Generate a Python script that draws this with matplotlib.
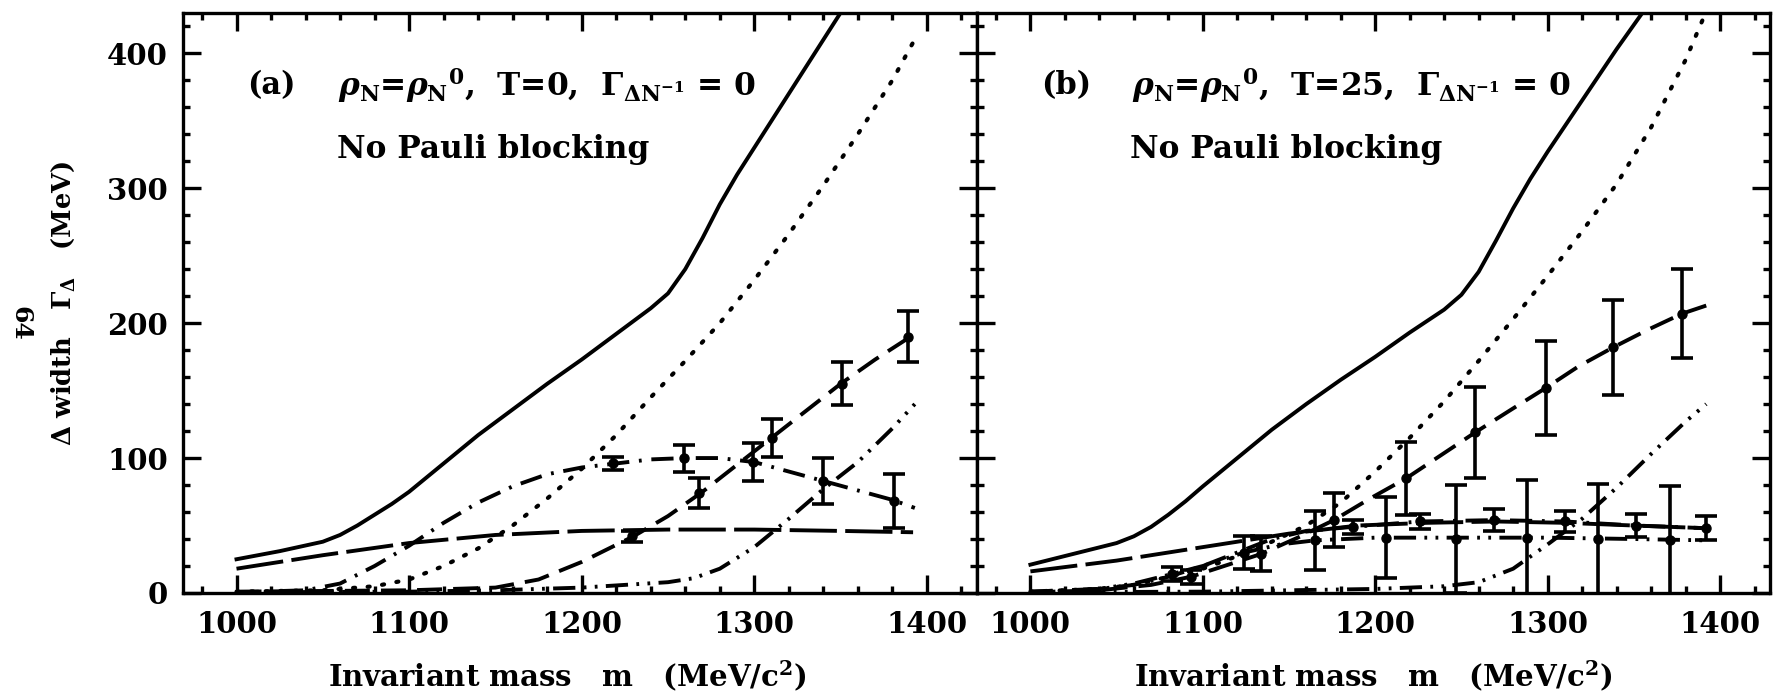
import numpy as np
import matplotlib
matplotlib.use("Agg")
import matplotlib.pyplot as plt

plt.rcParams['font.family'] = ['DejaVu Serif']
plt.rcParams['font.weight'] = 'bold'
plt.rcParams['mathtext.fontset'] = 'dejavuserif'
plt.rcParams['lines.scale_dashes'] = False

# ---- panel (a): T = 0 ----
a_solid_m = [1000, 1025, 1050, 1060, 1070, 1080, 1090, 1100, 1120, 1140, 1160, 1180, 1200, 1220, 1240, 1250,
             1260, 1270, 1280, 1290, 1300, 1310, 1320, 1330, 1340, 1350]
a_solid_v = [25, 31, 38, 43, 50, 58, 66, 75, 96, 117, 136, 155, 173, 192, 211, 222,
             240, 263, 288, 310, 330, 350, 370, 390, 410, 430]

a_dot_m = [1000, 1050, 1080, 1100, 1120, 1140, 1160, 1180, 1200, 1220, 1240, 1260, 1280, 1300, 1320, 1340, 1360, 1380, 1395]
a_dot_v = [1, 2, 5, 10, 20, 33, 50, 70, 92, 117, 145, 172, 200, 232, 266, 302, 340, 380, 415]

a_ldash_m = [1000, 1050, 1100, 1150, 1200, 1250, 1300, 1350, 1392]
a_ldash_v = [18, 28, 37, 43, 46, 47, 47, 46, 45]

a_hump_m = [1000, 1040, 1060, 1080, 1100, 1120, 1140, 1160, 1180, 1200, 1220, 1240, 1260, 1280, 1300, 1320, 1340, 1360, 1380, 1393]
a_hump_v = [0.5, 2, 7, 20, 35, 52, 67, 79, 88, 93, 96, 99, 100, 100, 97, 90, 83, 76, 69, 63]
a_hump_pm = [1218, 1259, 1299, 1340, 1381]
a_hump_pv = [96, 100, 97, 83, 68]
a_hump_pe = [5, 10, 14, 17, 20]

a_dash_m = [1000, 1100, 1150, 1175, 1200, 1230, 1250, 1270, 1290, 1310, 1330, 1350, 1370, 1393]
a_dash_v = [1, 2, 4, 10, 23, 42, 57, 75, 95, 115, 135, 155, 173, 192]
a_dash_pm = [1229, 1268, 1310, 1351, 1389]
a_dash_pv = [42, 74, 115, 155, 190]
a_dash_pe = [4, 11, 14, 16, 19]

a_late_m = [1000, 1100, 1150, 1200, 1250, 1265, 1280, 1300, 1320, 1340, 1360, 1380, 1393]
a_late_v = [0.5, 1, 2, 4, 8, 11, 18, 34, 55, 77, 97, 122, 140]

# ---- panel (b): T = 25 ----
b_solid_m = [1000, 1025, 1050, 1060, 1070, 1080, 1090, 1100, 1120, 1140, 1160, 1180, 1200, 1220, 1240, 1250,
             1260, 1270, 1280, 1290, 1300, 1310, 1320, 1330, 1340, 1355]
b_solid_v = [21, 29, 37, 42, 49, 58, 68, 79, 100, 121, 140, 158, 175, 193, 210, 221,
             238, 261, 285, 307, 327, 346, 365, 384, 403, 430]

b_dot_m = [1000, 1040, 1060, 1080, 1100, 1130, 1160, 1180, 1200, 1220, 1240, 1260, 1280, 1300, 1320, 1340, 1360, 1380, 1390]
b_dot_v = [1, 3, 6, 12, 18, 32, 50, 67, 90, 115, 142, 172, 203, 235, 268, 303, 345, 395, 425]

b_ldash_m = [1000, 1050, 1100, 1150, 1190, 1230, 1270, 1310, 1350, 1392]
b_ldash_v = [16, 24, 34, 44, 50, 52, 53, 52, 50, 48]

b_dd_m = [1000, 1040, 1060, 1080, 1100, 1120, 1140, 1160, 1187, 1226, 1269, 1310, 1351, 1392]
b_dd_v = [1, 3, 6, 12, 20, 30, 40, 46, 49, 53, 54, 53, 50, 48]
b_dd_pm = [1187, 1226, 1269, 1310, 1351, 1392]
b_dd_pv = [49, 53, 54, 53, 50, 48]
b_dd_pe = [5, 5.5, 8, 8, 8.5, 9]

b_flat_m = [1000, 1040, 1060, 1082, 1100, 1124, 1145, 1165, 1200, 1250, 1300, 1350, 1392]
b_flat_v = [1, 3, 7, 14, 20, 30, 36, 39, 41, 41, 41, 40, 39]
b_flat_pm = [1082, 1124, 1165, 1206, 1247, 1288, 1329, 1371]
b_flat_pv = [14, 30, 39, 41, 40, 41, 40, 39]
b_flat_pe = [5, 12, 22, 30, 40, 43, 41, 40]

b_dash_m = [1000, 1040, 1070, 1093, 1110, 1134, 1155, 1176, 1197, 1218, 1238, 1258, 1279, 1299, 1318, 1338, 1358, 1378, 1392]
b_dash_v = [0.5, 2, 6, 12, 19, 29, 41, 54, 70, 85, 102, 119, 136, 152, 168, 182, 195, 207, 213]
b_dash_pm = [1093, 1134, 1176, 1218, 1258, 1299, 1338, 1378]
b_dash_pv = [12, 29, 54, 85, 119, 152, 182, 207]
b_dash_pe = [5, 13, 20, 27, 34, 35, 35, 33]

b_late_m = [1000, 1100, 1150, 1200, 1240, 1260, 1280, 1300, 1320, 1340, 1360, 1380, 1392]
b_late_v = [0.5, 1, 2, 3, 5, 8, 18, 36, 55, 78, 103, 127, 140]

xticks = [1000, 1100, 1200, 1300, 1400]
yticks = [0, 100, 200, 300, 400]

# dash patterns (points)
LDASH = (0, (34, 6))
DASH = (0, (18, 8))
DOT = (0, (1.5, 9))
DASHDOT = (0, (16, 7, 2, 7))
DASHDOTDOT = (0, (16, 6, 2, 6, 2, 6))

lw = 2.8
fs = 21

fig = plt.figure(figsize=(17.75, 6.96), dpi=100)
axa = fig.add_axes([0.1031, 0.148, 0.4473, 0.8337])
axb = fig.add_axes([0.5504, 0.148, 0.4468, 0.8337])


def pts(ax, m, v, e):
    ax.errorbar(m, v, yerr=e, fmt='o', color='black', ms=6.5, elinewidth=2.6,
                capsize=8, capthick=2.6, zorder=5)


# panel a
axa.plot(a_solid_m, a_solid_v, color='black', lw=lw)
axa.plot(a_dot_m, a_dot_v, color='black', lw=3, linestyle=DOT, dash_capstyle='round')
axa.plot(a_ldash_m, a_ldash_v, color='black', lw=lw, linestyle=LDASH)
axa.plot(a_hump_m, a_hump_v, color='black', lw=lw, linestyle=DASHDOT)
axa.plot(a_dash_m, a_dash_v, color='black', lw=lw, linestyle=DASH)
axa.plot(a_late_m, a_late_v, color='black', lw=lw, linestyle=DASHDOTDOT)
pts(axa, a_hump_pm, a_hump_pv, a_hump_pe)
pts(axa, a_dash_pm, a_dash_pv, a_dash_pe)

# panel b
axb.plot(b_solid_m, b_solid_v, color='black', lw=lw)
axb.plot(b_dot_m, b_dot_v, color='black', lw=3, linestyle=DOT, dash_capstyle='round')
axb.plot(b_ldash_m, b_ldash_v, color='black', lw=lw, linestyle=LDASH)
axb.plot(b_dd_m, b_dd_v, color='black', lw=lw, linestyle=DASHDOT)
axb.plot(b_flat_m, b_flat_v, color='black', lw=lw, linestyle=DASHDOTDOT)
axb.plot(b_dash_m, b_dash_v, color='black', lw=lw, linestyle=DASH)
axb.plot(b_late_m, b_late_v, color='black', lw=lw, linestyle=DASHDOTDOT)
pts(axb, b_dd_pm, b_dd_pv, b_dd_pe)
pts(axb, b_flat_pm, b_flat_pv, b_flat_pe)
pts(axb, b_dash_pm, b_dash_pv, b_dash_pe)

for ax in (axa, axb):
    ax.set_xlim(969, 1429)
    ax.set_ylim(0, 430)
    ax.set_xticks(xticks)
    ax.set_yticks(yticks)
    ax.set_xticks(np.arange(980, 1430, 20), minor=True)
    ax.set_yticks(np.arange(0, 431, 20), minor=True)
    ax.tick_params(which='both', direction='in', top=True, right=True, width=2.4,
                   labelsize=fs)
    ax.tick_params(which='major', length=13)
    ax.tick_params(which='minor', length=5)
    ax.tick_params(axis='x', pad=12)
    ax.tick_params(axis='y', pad=11)
    for s in ax.spines.values():
        s.set_linewidth(2.4)
    ax.set_xlabel(r"Invariant mass   m   (MeV/c$^\mathbf{2}$)", fontsize=21,
                  fontweight='bold')

axb.tick_params(labelleft=False)
axa.xaxis.set_label_coords(0.484, -0.112)
axb.xaxis.set_label_coords(0.50, -0.112)

axa.set_ylabel(r"Δ width   Γ$_\mathbf{\Delta}$   (MeV)", fontsize=18.5, fontweight='bold')
axa.yaxis.set_label_coords(-0.134, 0.5)

# annotations
for ax, lab, temp in ((axa, "(a)", "0"), (axb, "(b)", "25")):
    ax.text(1006, 376, lab, fontsize=22, fontweight='bold', va='center', ha='left')
    ax.text(1059, 376,
            r"$\rho_\mathbf{N}$=$\rho_\mathbf{N}{}^\mathbf{0}$,  T=" + temp +
            r",  $\Gamma_{\mathbf{\Delta N}^{\mathbf{-1}}}$ = 0",
            fontsize=22.5, fontweight='bold', va='center', ha='left')
    ax.text(1058, 329, "No Pauli blocking", fontsize=22.5, fontweight='bold',
            va='center', ha='left')

fig.text(20 / 1775, 1 - 323 / 696, "64", rotation=-90, fontsize=18,
         fontweight='bold', ha='center', va='center')

fig.savefig("out.png", dpi=100)
